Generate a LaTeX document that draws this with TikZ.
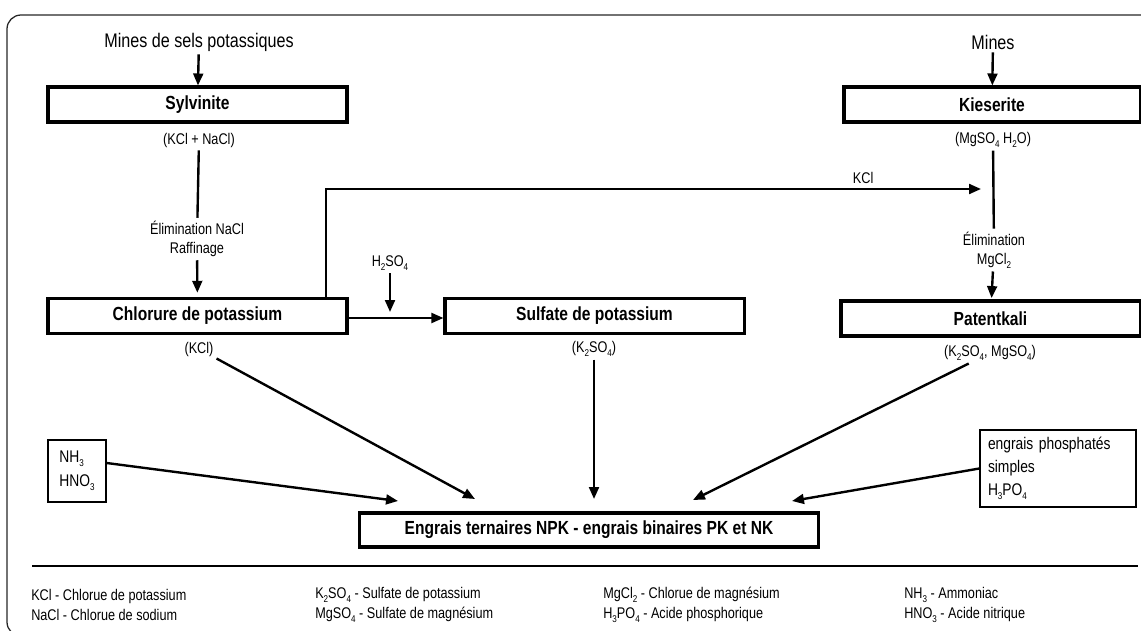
\documentclass[tikz,border=0pt]{standalone}
\usepackage{fontspec}
\setmainfont{Liberation Sans}[FakeStretch=0.82]
\usetikzlibrary{calc, positioning, arrows.meta}
\newcommand{\chs}[1]{\raisebox{-0.45ex}{\scriptsize #1}}

\begin{document}
\begin{tikzpicture}[
        x=0.025cm, y=-0.025cm,
        box/.style={rectangle, draw=black, line width=2.2pt,
                    minimum width=7.475cm, minimum height=0.875cm,
                    align=center, font=\bfseries\fontsize{13.5}{16}\selectfont, inner sep=2pt},
        inbox/.style={rectangle, draw=black, line width=1pt,
                    align=left, font=\fontsize{12}{16.5}\selectfont},
        lbl/.style={align=center, font=\fontsize{11}{14}\selectfont, inner sep=2pt},
        head/.style={font=\fontsize{14}{16}\selectfont, inner sep=2pt},
        leg/.style={anchor=west, align=left, font=\fontsize{11}{14.2}\selectfont, inner sep=0pt},
        arrow/.style={-{Triangle[length=8.5pt, width=7pt]}, line width=1.7pt},
        link/.style={line width=1.7pt},
    ]
    \useasboundingbox (0,0) rectangle (1141,630);
    \begin{scope}
        \clip (0,0) rectangle (1141,630);
        \draw[line width=0.9pt, black!85, rounded corners=0.35cm] (7,15) rectangle (1170,636);
    \end{scope}

    % ====== gauche : sels potassiques ======
    \node[head] (minesL) at (199,42) {Mines de sels potassiques};
    \node[box] (sylv) at (197.5,104.5) {Sylvinite};
    \node[lbl] (sylvf) at (199,140) {(KCl + NaCl)};
    \node[lbl] (elimA) at (197,239) {Élimination NaCl\\Raffinage};
    \node[box] (chlor) at (197.5,316) {Chlorure de potassium};
    \node[lbl] (chlorf) at (199,349) {(KCl)};

    % ====== milieu ======
    \node[lbl] (acid) at (390,263) {H\chs{2}SO\chs{4}};
    \node[box] (sulf) at (594.5,316) {Sulfate de potassium};
    \node[lbl] (sulff) at (594,349) {(K\chs{2}SO\chs{4})};

    % ====== droite : kieserite ======
    \node[head] (minesR) at (993,42) {Mines};
    \node[box, minimum width=7.4cm] (kies) at (992,104.5) {Kieserite};
    \node[lbl] (kiesf) at (993,140) {(MgSO\chs{4} H\chs{2}O)};
    \node[lbl] (elimB) at (994,250) {Élimination\\MgCl\chs{2}};
    \node[box] (pat) at (990.5,318.5) {Patentkali};
    \node[lbl] (patf) at (990,353) {(K\chs{2}SO\chs{4}, MgSO\chs{4})};

    % ====== bas ======
    \node[inbox, minimum width=1.45cm, minimum height=1.55cm, font=\fontsize{12}{17}\selectfont] (nbox) at (77,471) {NH\chs{3}\\HNO\chs{3}};
    \node[inbox, text width=3.5cm, inner xsep=0.2cm, inner ysep=5pt] (pbox) at (1058,468.5) {engrais phosphatés\\simples\\H\chs{3}PO\chs{4}};
    \node[box, minimum width=11.45cm, minimum height=0.85cm] (npk) at (589,530) {Engrais ternaires NPK - engrais binaires PK et NK};

    % ====== flèches ======
    \draw[arrow] (minesL) -- (sylv);
    \draw[link] (sylvf) -- (elimA);
    \draw[arrow, shorten >=3pt] (elimA) -- (chlor);
    \draw[arrow] (chlor.east |- 0,318) coordinate (cE) -- (sulf.west |- cE);
    \coordinate (mix) at (390,312);
    \draw[arrow] (acid) -- (mix);

    \coordinate (kclup) at (326,189);
    \coordinate (kclend) at (981,189);
    \draw[arrow] (chlor.north -| kclup) -- (kclup) -- (kclend)
        node[lbl, pos=0.82, above=1pt] (kcl) {KCl};

    \draw[arrow] (minesR) -- (kies);
    \draw[link] (kiesf) -- (elimB);
    \draw[arrow, shorten >=1pt] (elimB) -- (pat);

    % vers les engrais composés
    \coordinate (inA) at (398,501);
    \coordinate (inB) at (475,499);
    \coordinate (inC) at (594,499);
    \coordinate (inD) at (693,500);
    \coordinate (inE) at (792,501);
    \draw[arrow] ($(nbox.east)+(0,-8)$) -- (inA);
    \draw[arrow] (chlorf) -- (inB);
    \draw[arrow] (sulff) -- (inC);
    \draw[arrow] (patf) -- (inD);
    \draw[arrow] (pbox.west) -- (inE);

    % ====== légende ======
    \draw[line width=1.8pt] (32,566) -- (1138,566);
    \node[leg] (legA) at (31,605) {KCl - Chlorue de potassium\\NaCl - Chlorue de sodium};
    \node[leg] (legB) at (315,605) {K\chs{2}SO\chs{4} - Sulfate de potassium\\MgSO\chs{4} - Sulfate de magnésium};
    \node[leg] (legC) at (603,605) {MgCl\chs{2} - Chlorue de magnésium\\H\chs{3}PO\chs{4} - Acide phosphorique};
    \node[leg] (legD) at (904,605) {NH\chs{3} - Ammoniac\\HNO\chs{3} - Acide nitrique};
\end{tikzpicture}
\end{document}
